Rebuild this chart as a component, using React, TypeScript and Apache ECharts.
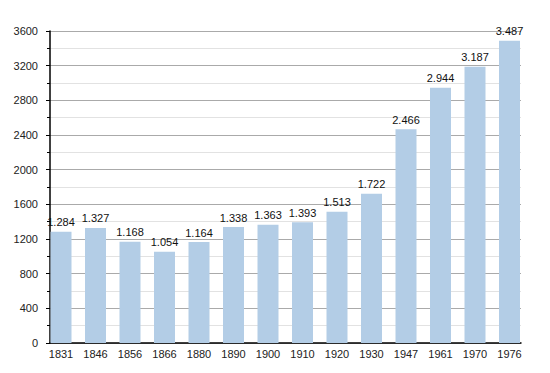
import React, { useEffect, useRef } from "react";
import * as echarts from "echarts";

const years = ["1831", "1846", "1856", "1866", "1880", "1890", "1900", "1910", "1920", "1930", "1947", "1961", "1970", "1976"];
const population = [1284, 1327, 1168, 1054, 1164, 1338, 1363, 1393, 1513, 1722, 2466, 2944, 3187, 3487];

const fmt = (v: number) => {
  const s = String(v);
  return s.length > 3 ? s.slice(0, s.length - 3) + "." + s.slice(s.length - 3) : s;
};

const font = "Liberation Sans, Arial, sans-serif";

export default function App() {
  const ref = useRef<HTMLDivElement>(null);
  useEffect(() => {
    const chart = echarts.init(ref.current!, undefined, { renderer: "svg" });
    chart.setOption({
      animation: false,
      grid: [
        { left: 50, right: 29, top: 31, bottom: 30 },
        { left: 61, right: 40.5, top: 31, bottom: 30 },
      ],
      xAxis: [
        {
          gridIndex: 0,
          type: "value",
          min: 0,
          max: 1,
          axisLine: { show: true, onZero: false, lineStyle: { color: "#000", width: 1.5 } },
          axisTick: { show: false },
          axisLabel: { show: false },
          splitLine: { show: false },
        },
        {
          gridIndex: 1,
          type: "category",
          data: years,
          boundaryGap: false,
          axisLine: { show: false },
          axisTick: { show: false },
          axisLabel: { color: "#222", fontFamily: font, fontSize: 11, margin: 5 },
        },
      ],
      yAxis: [
        {
          gridIndex: 0,
          type: "value",
          min: 0,
          max: 3600,
          interval: 400,
          axisLine: { show: true, lineStyle: { color: "#000", width: 1.5 } },
          axisTick: { show: true, length: 4, lineStyle: { color: "#000" } },
          minorTick: { show: true, splitNumber: 2, length: 3, lineStyle: { color: "#000" } },
          axisLabel: { color: "#222", fontFamily: font, fontSize: 11, margin: 12, formatter: (v: number) => String(v) },
          splitLine: { lineStyle: { color: "#aaa", width: 1 } },
          minorSplitLine: { show: true, lineStyle: { color: "#e2e2e2", width: 1 } },
        },
        {
          gridIndex: 1,
          type: "value",
          min: 0,
          max: 3600,
          interval: 400,
          show: false,
          splitLine: { show: false },
        },
      ],
      series: [
        {
          type: "bar",
          xAxisIndex: 1,
          yAxisIndex: 1,
          data: population,
          barWidth: 21,
          itemStyle: { color: "#b3cde6" },
          label: {
            show: true,
            position: "top",
            distance: 4,
            color: "#111",
            fontFamily: font,
            fontSize: 11,
            formatter: (p: any) => fmt(p.value),
          },
        },
      ],
    });
    return () => chart.dispose();
  }, []);
  return <div ref={ref} style={{ width: 550, height: 373, position: "absolute", left: 0, top: 0, background: "#fff" }} />;
}
